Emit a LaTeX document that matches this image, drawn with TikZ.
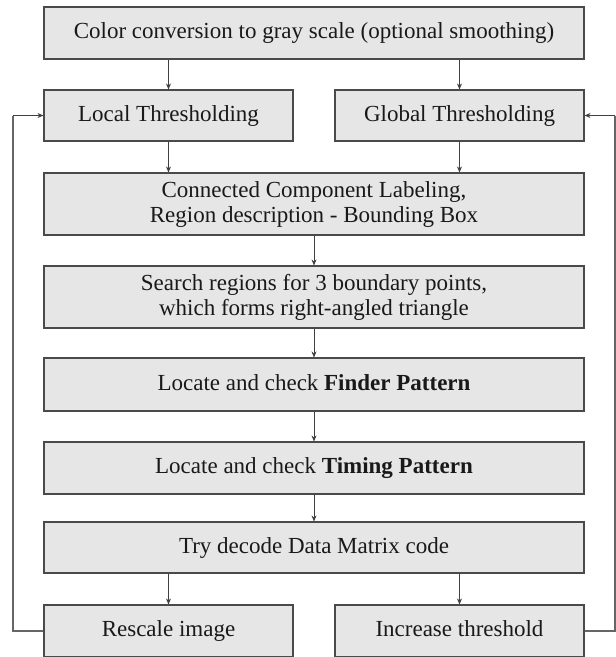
\documentclass[tikz,border=0pt]{standalone}
\usepackage{fontspec}
\setmainfont{Liberation Serif}
\usetikzlibrary{arrows.meta,positioning}
\definecolor{boxfill}{HTML}{E6E6E6}
\definecolor{boxline}{HTML}{4A4A4A}
\definecolor{arrline}{HTML}{404040}
\begin{document}
\begin{tikzpicture}[x=1pt,y=-1pt,
  box/.style={draw=boxline, fill=boxfill, line width=1.1pt, inner sep=0pt, align=center,
    font=\fontsize{23}{25}\selectfont, text=black!90},
  oneline/.style={text height=16pt, text depth=5pt},
  widebox/.style={box, minimum width=540pt},
  halfbox/.style={box, minimum width=249pt},
  arr/.style={draw=arrline, line width=0.8pt, -{Stealth[length=6pt,width=5pt]}},
  loopline/.style={draw=arrline!80, line width=1.1pt}]
\useasboundingbox (0,0) rectangle (616,657);
\node[widebox, oneline, minimum height=52pt] (top) at (314,33) {Color conversion to gray scale (optional smoothing)};
\node[halfbox, oneline, minimum height=51pt] (local) at (168.5,115.5) {Local Thresholding};
\node[halfbox, oneline, minimum height=51pt] (global) at (459.5,115.5) {Global Thresholding};
\node[widebox, minimum height=62pt] (conn) at (314,204) {Connected Component Labeling,\\Region description - Bounding Box};
\node[widebox, minimum height=62pt] (search) at (314,297) {Search regions for 3 boundary points,\\which forms right-angled triangle};
\node[widebox, oneline, minimum height=53pt] (finder) at (314,384.5) {Locate and check \textbf{Finder Pattern}};
\node[widebox, oneline, minimum height=52pt] (timing) at (314,468) {Locate and check \textbf{Timing Pattern}};
\node[widebox, oneline, minimum height=51pt] (try) at (314,547.5) {Try decode Data Matrix code};
\node[halfbox, oneline, minimum height=52pt] (rescale) at (168.5,631) {Rescale image};
\node[halfbox, oneline, minimum height=52pt] (increase) at (459.5,631) {Increase threshold};
\coordinate (lx) at (13,0);
\coordinate (rx) at (615,0);
\draw[arr] (top.south -| local.north) -- (local.north);
\draw[arr] (top.south -| global.north) -- (global.north);
\draw[arr] (local.south) -- (local.south |- conn.north);
\draw[arr] (global.south) -- (global.south |- conn.north);
\draw[arr] (conn.south) -- (search.north);
\draw[arr] (search.south) -- (finder.north);
\draw[arr] (finder.south) -- (timing.north);
\draw[arr] (timing.south) -- (try.north);
\draw[arr] (try.south -| rescale.north) -- (rescale.north);
\draw[arr] (try.south -| increase.north) -- (increase.north);
\draw[loopline] (rescale.west) -- (rescale.west -| lx) -- (local.west -| lx);
\draw[arr] (local.west -| lx) -- (local.west);
\draw[loopline] (increase.east) -- (increase.east -| rx) -- (global.east -| rx);
\draw[arr] (global.east -| rx) -- (global.east);
\end{tikzpicture}
\end{document}
